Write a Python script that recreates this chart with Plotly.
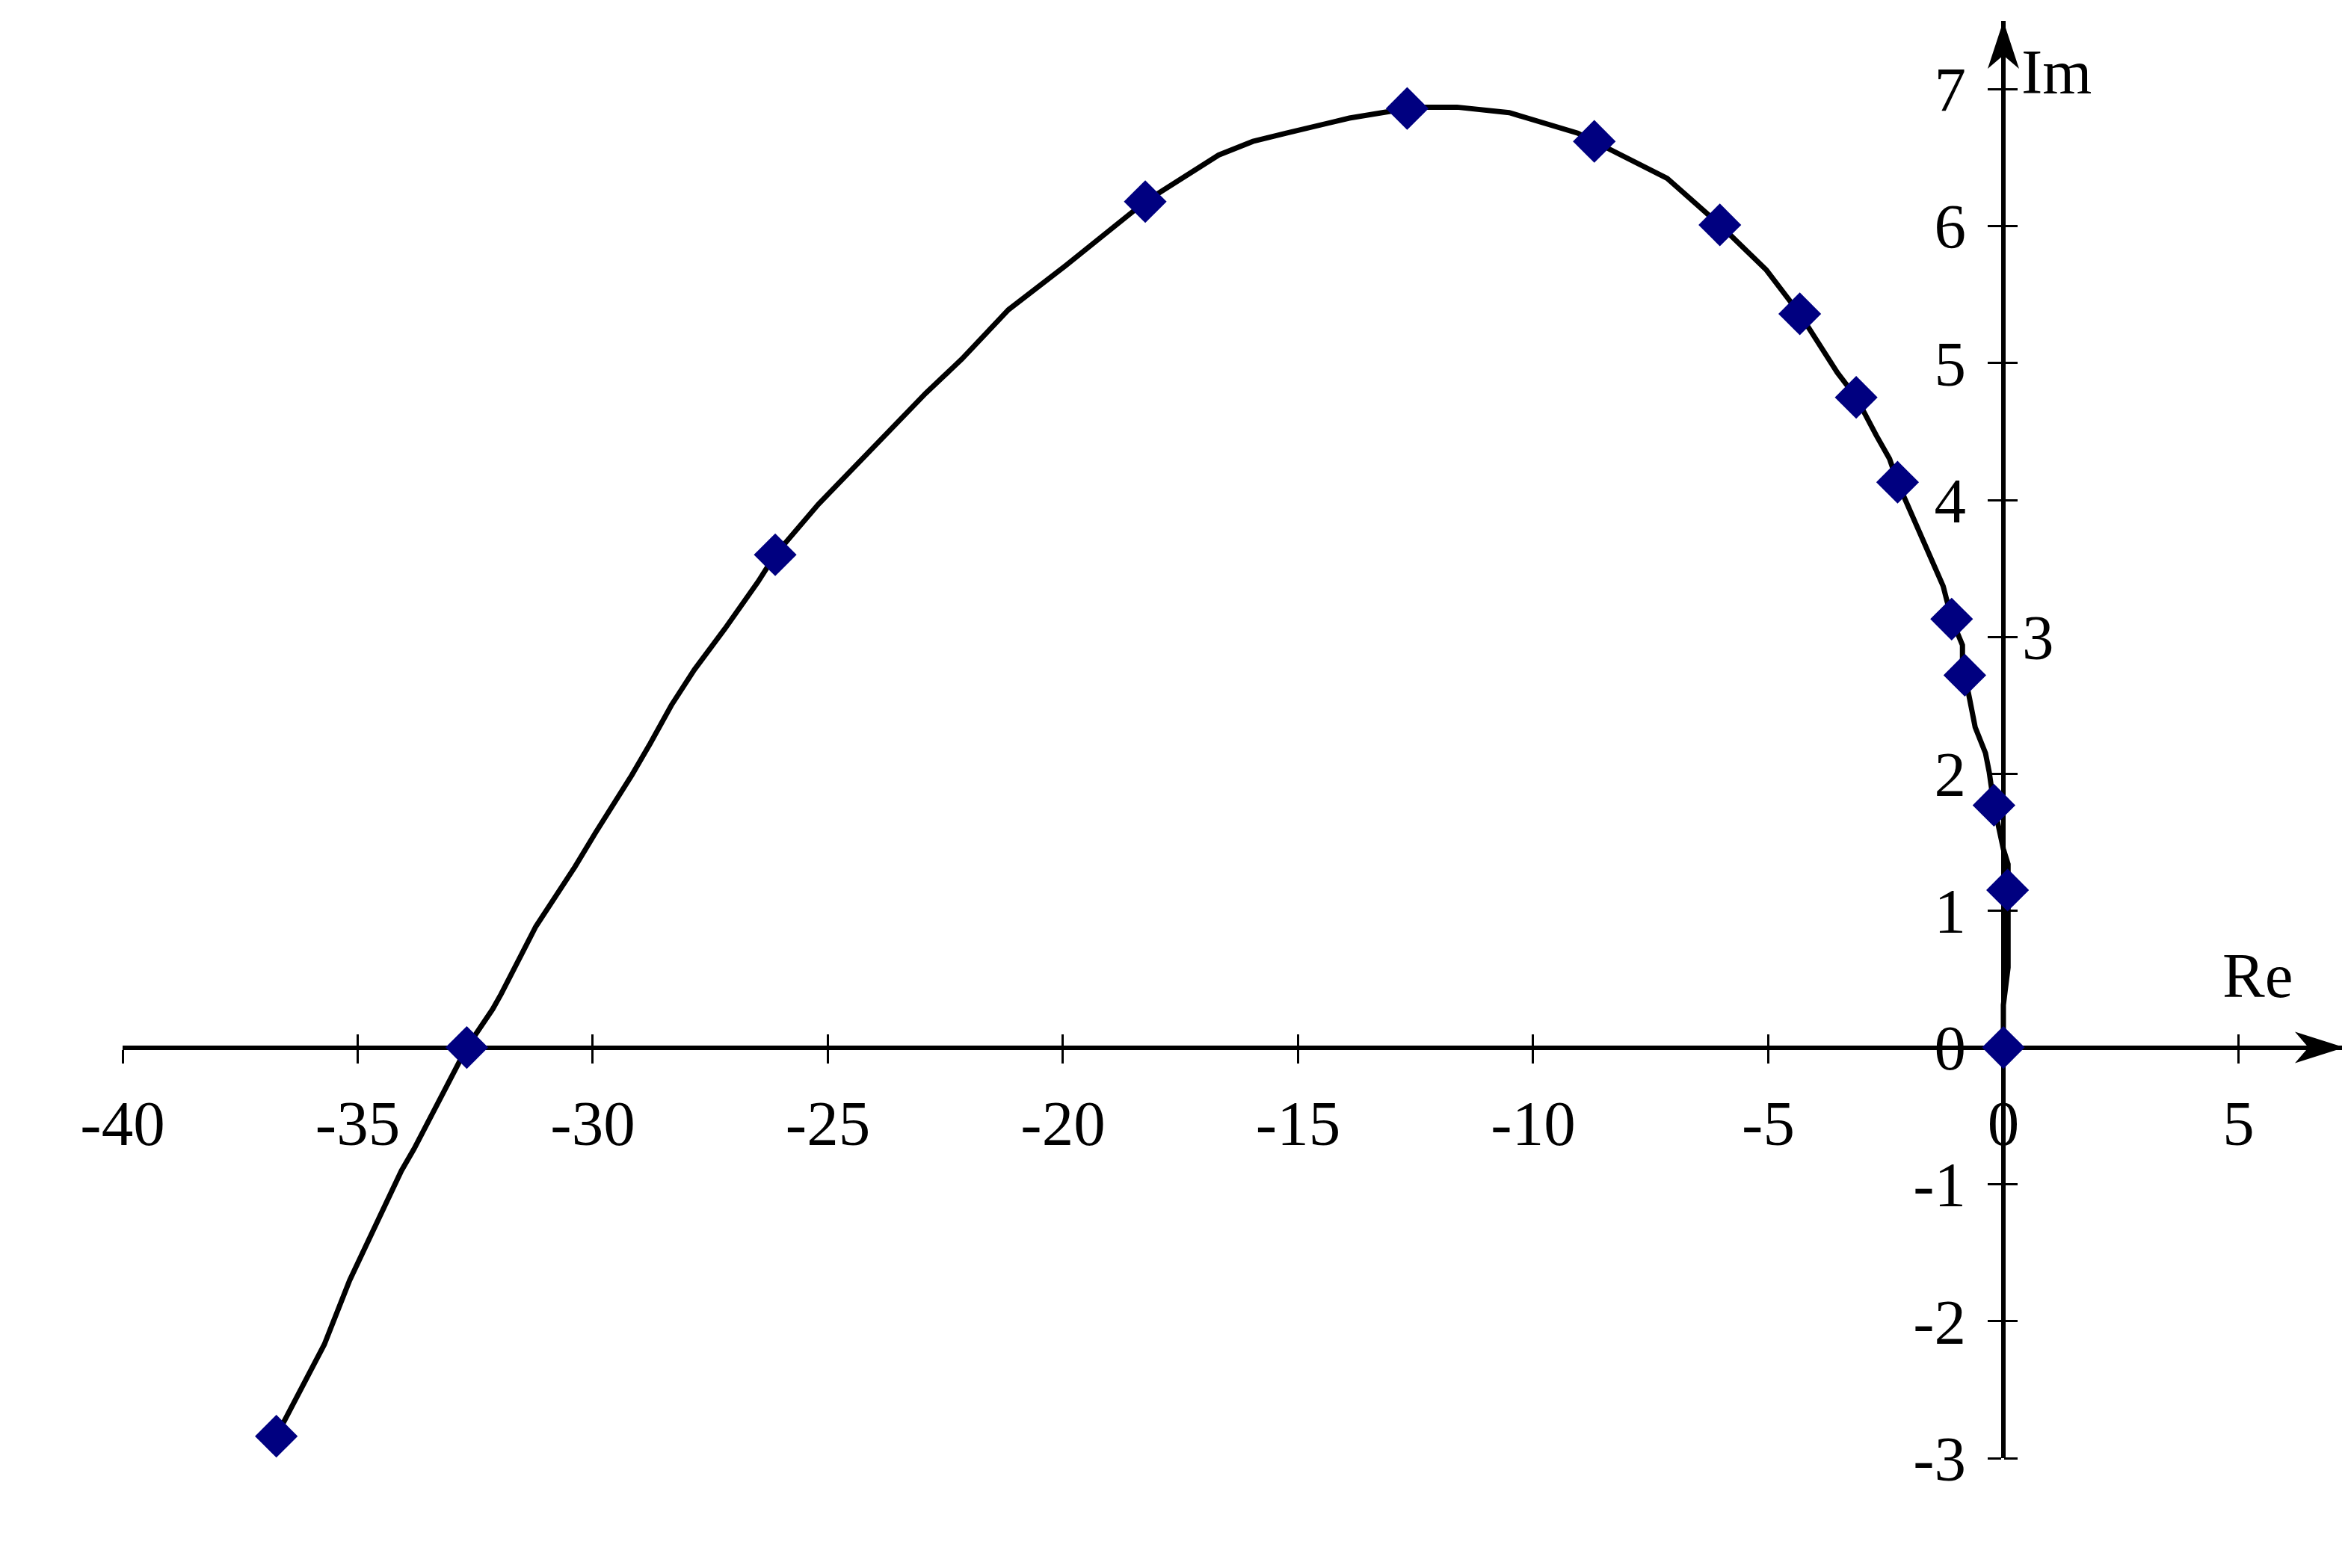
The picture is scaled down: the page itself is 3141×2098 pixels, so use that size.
import plotly.graph_objects as go

# Points computed (shown with markers): Re / Im
re_pts = [-36.73, -32.68, -26.12, -18.25, -12.68, -8.70, -6.03, -4.33,
          -3.13, -2.25, -1.10, -0.82, -0.20, 0.09, 0.0]
im_pts = [-2.84, 0.0, 3.60, 6.18, 6.86, 6.62, 6.01, 5.36,
          4.75, 4.13, 3.13, 2.72, 1.77, 1.15, 0.0]

# Smoothed curve through them
re_line = [-36.73, -36.14, -35.71, -35.17, -34.50, -34.07, -33.80, -33.21, -32.68,
           -32.13, -31.95, -31.21, -30.38, -29.94, -29.49, -29.17, -28.78, -28.33,
           -27.84, -27.19, -26.49, -26.12, -25.20, -24.13, -22.92, -22.15, -21.16,
           -19.95, -18.25, -16.69, -15.96, -15.25, -13.91, -12.68, -12.34, -11.62,
           -10.51, -9.05, -8.70, -7.89, -7.15, -6.26, -6.03, -5.04, -4.33, -3.53,
           -3.13, -2.70, -2.42, -2.25, -1.64, -1.28, -1.10, -0.87, -0.87, -0.82,
           -0.72, -0.60, -0.38, -0.30, -0.20, -0.085, 0.0, 0.10, 0.09, 0.10, 0.10,
           0.0, 0.0]
im_line = [-2.84, -2.45, -2.17, -1.70, -1.22, -0.90, -0.74, -0.34, 0.0,
           0.28, 0.39, 0.885, 1.32, 1.57, 1.81, 1.99, 2.22, 2.50,
           2.76, 3.06, 3.40, 3.60, 3.97, 4.35, 4.78, 5.03, 5.39,
           5.71, 6.18, 6.52, 6.62, 6.68, 6.79, 6.86, 6.87, 6.87,
           6.83, 6.68, 6.62, 6.48, 6.35, 6.08, 6.01, 5.68, 5.36, 4.93,
           4.75, 4.47, 4.30, 4.13, 3.65, 3.37, 3.13, 2.94, 2.84, 2.72,
           2.55, 2.34, 2.15, 2.01, 1.77, 1.59, 1.45, 1.34, 1.15, 1.03, 0.585,
           0.31, 0.0]

x_tick_vals = [-40, -35, -30, -25, -20, -15, -10, -5, 0, 5]
x_tick_text = ["-40", "-35", "-30", "-25", "-20", "-15", "-10", "-5", "0", "5"]
y_tick_vals = [-3, -2, -1, 0, 1, 2, 3, 4, 5, 6, 7]
y_left_text = ["-3", "-2", "-1", "0", "1", "2", "", "4", "5", "6", "7"]
y_right_text = ["", "", "", "", "", "", "3", "", "", "", ""]

X_RANGE = [-40, 7.25]
Y_RANGE = [-3, 7.5]
# where the axes cross, as paper fractions
px0 = (0 - X_RANGE[0]) / (X_RANGE[1] - X_RANGE[0])
py0 = (0 - Y_RANGE[0]) / (Y_RANGE[1] - Y_RANGE[0])

FONT = dict(family="Liberation Serif", size=85, color="black")

fig = go.Figure()
fig.add_trace(go.Scatter(x=re_line, y=im_line, mode="lines",
                         line=dict(color="black", width=7),
                         xaxis="x", yaxis="y", showlegend=False))
fig.add_trace(go.Scatter(x=re_pts, y=im_pts, mode="markers",
                         marker=dict(symbol="diamond", size=44, color="#000080"),
                         xaxis="x2", yaxis="y2", showlegend=False))

common = dict(showgrid=False, zeroline=False, tickcolor="black",
              tickwidth=2.5, ticklen=18, layer="below traces")

fig.update_layout(
    width=3141, height=2098,
    margin=dict(l=156, r=13, t=20, b=155),
    paper_bgcolor="white", plot_bgcolor="white",
    font=FONT,
    xaxis=dict(range=X_RANGE, anchor="free", position=py0, showline=True,
               linecolor="black", linewidth=6, ticks="outside",
               tickvals=x_tick_vals, ticktext=x_tick_text, tickfont=FONT,
               ticklabelstandoff=7, **common),
    xaxis2=dict(range=X_RANGE, overlaying="x", anchor="free", position=py0,
                side="bottom", ticks="inside", tickvals=x_tick_vals,
                showticklabels=False, showline=False, **common),
    yaxis=dict(range=Y_RANGE, anchor="free", position=px0, side="left",
               showline=True, linecolor="black", linewidth=6, ticks="outside",
               tickvals=y_tick_vals, ticktext=y_left_text, tickfont=FONT,
               ticklabelstandoff=12, **common),
    yaxis2=dict(range=Y_RANGE, overlaying="y", anchor="free", position=px0,
                side="right", showline=False, ticks="outside",
                tickvals=y_tick_vals, ticktext=y_right_text, tickfont=FONT,
                ticklabelstandoff=-11, **common),
)

# arrowheads at the ends of both axes
fig.add_shape(type="path", xref="x", yref="y", xsizemode="pixel", ysizemode="pixel",
              xanchor=X_RANGE[1], yanchor=0,
              path="M0,0 L-66,21 L-48,0 L-66,-21 Z",
              fillcolor="black", line=dict(width=0))
fig.add_shape(type="path", xref="x", yref="y", xsizemode="pixel", ysizemode="pixel",
              xanchor=0, yanchor=Y_RANGE[1],
              path="M0,0 L-21,-64 L0,-46 L21,-64 Z",
              fillcolor="black", line=dict(width=0))

fig.add_annotation(x=0, y=7.13, text="Im", showarrow=False, xanchor="left",
                   xshift=22, font=FONT)
fig.add_annotation(x=5.41, y=0.53, text="Re", showarrow=False, font=FONT)

fig.write_html("out.html")
